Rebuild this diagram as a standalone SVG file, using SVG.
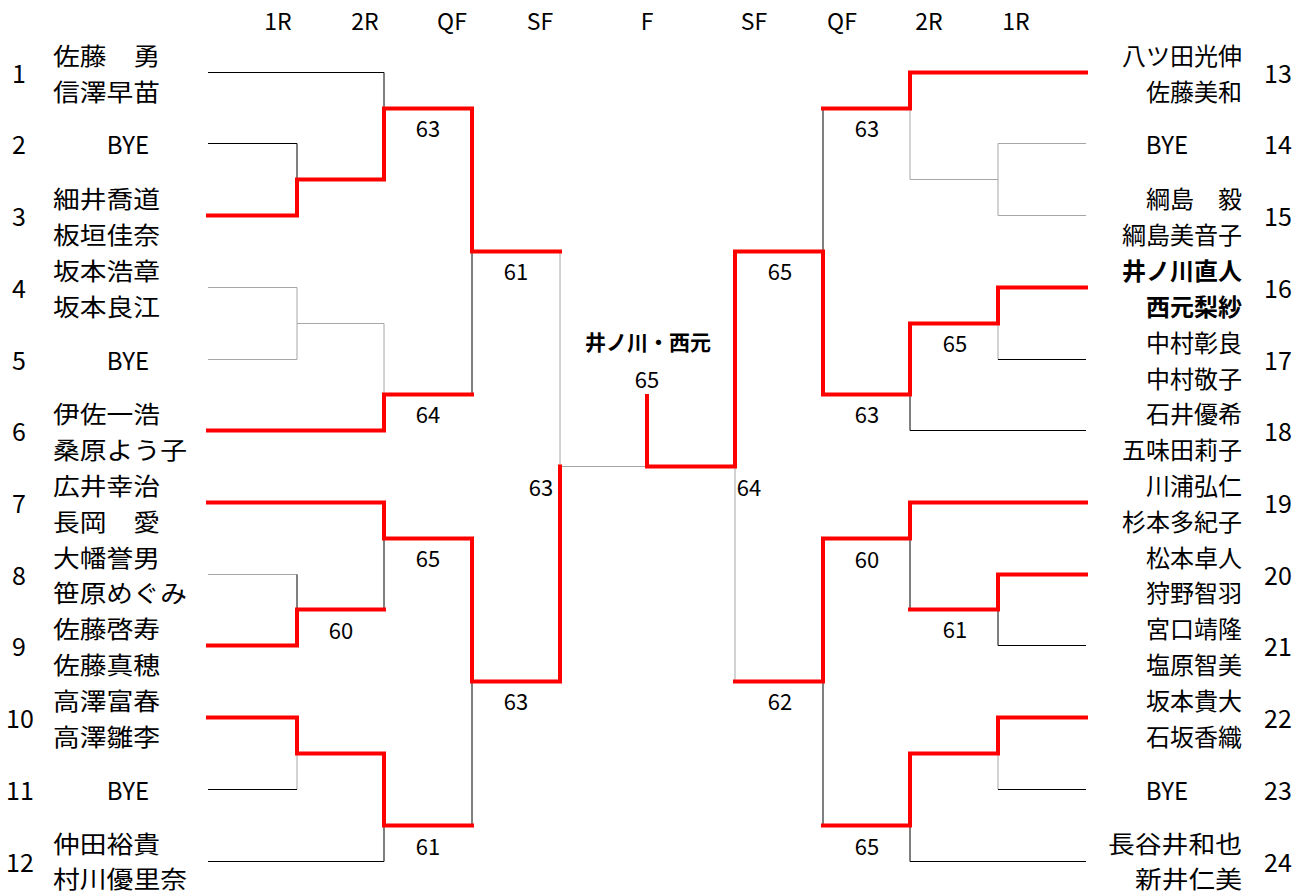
<svg xmlns="http://www.w3.org/2000/svg" width="1306" height="894" viewBox="0 0 1306 894">
<style>
text{font-family:"Noto Sans CJK JP","Liberation Sans",sans-serif;fill:#000;dominant-baseline:central}
.h{font-size:23px;text-anchor:middle}
.n{font-size:25px;text-anchor:middle}
.nm{font-size:24px}
.nr{font-size:24px}
.l{text-anchor:start}
.r{text-anchor:end}
.c{text-anchor:middle}
.b{font-weight:bold}
.s{font-size:22px;text-anchor:middle}
.t{font-size:21px;text-anchor:middle;font-weight:bold}
.k{fill:none;stroke:#000;stroke-width:1}
.g{fill:none;stroke:#a6a6a6;stroke-width:1}
.w{fill:none;stroke:#ff0000;stroke-width:4;stroke-linejoin:miter;stroke-linecap:square}
</style>
<rect width="1306" height="894" fill="#fff"/>
<g id="headers">
<text class="h" x="278" y="20">1R</text><text class="h" x="365" y="20">2R</text><text class="h" x="452" y="20">QF</text><text class="h" x="540" y="20">SF</text><text class="h" x="647" y="20">F</text><text class="h" x="754" y="20">SF</text><text class="h" x="842" y="20">QF</text><text class="h" x="929" y="20">2R</text><text class="h" x="1016" y="20">1R</text>
</g>
<g id="connectors">
<path class="g" d="M208,287.5H297V359.5H208M297,323.5H384V394.5"/>
<path class="g" d="M560,251.5V466.5H647"/>
<path class="g" d="M297,753.5V789.5M208,574.5H297"/>
<path class="k" d="M208,72.5H384V108.5M208,143.5H297V179.5M472,251.5V394.5M297,574.5V609.5M384,538.5V609.5M208,789.5H297M208,861.5H384V825.5M472,681.5V825.5"/>
<path class="g" d="M1086,143.5H998V215.5H1086M998,179.5H910V108.5"/>
<path class="g" d="M735,466.5V681.5M998,323.5V359.5M998,753.5V789.5"/>
<path class="k" d="M823,108.5V251.5M1086,359.5H998M1086,430.5H910V394.5M910,538.5V609.5M1086,645.5H998V609.5M823,681.5V825.5M1086,789.5H998M1086,861.5H910V825.5"/>
<path class="w" d="M208,215.5H297V179.5H384V108.5H472V251.5H560"/>
<path class="w" d="M208,430.5H384V394.5H472"/>
<path class="w" d="M208,502.5H384V538.5H472V681.5H560V466.5"/>
<path class="w" d="M208,645.5H297V609.5H384"/>
<path class="w" d="M208,717.5H297V753.5H384V825.5H472"/>
<path class="w" d="M1086,72.5H910V108.5H823"/>
<path class="w" d="M1086,287.5H998V323.5H910V394.5H823V251.5H735V466.5H647V396"/>
<path class="w" d="M1086,502.5H910V538.5H823V681.5H735"/>
<path class="w" d="M1086,574.5H998V609.5H910"/>
<path class="w" d="M1086,717.5H998V753.5H910V825.5H823"/>
</g>
<g id="scores">
<text class="s" x="428" y="127">63</text><text class="s" x="516" y="270">61</text><text class="s" x="428" y="413">64</text><text class="s" x="541" y="486">63</text><text class="s" x="428" y="557">65</text><text class="s" x="341" y="629">60</text><text class="s" x="516" y="700">63</text><text class="s" x="428" y="845">61</text>
<text class="s" x="867" y="127">63</text><text class="s" x="780" y="270">65</text><text class="s" x="955" y="342">65</text><text class="s" x="867" y="413">63</text><text class="s" x="749" y="486">64</text><text class="s" x="867" y="558">60</text><text class="s" x="955" y="628">61</text><text class="s" x="780" y="700">62</text><text class="s" x="867" y="845">65</text>
</g>
<g id="champion">
<text class="t" x="648" y="341">井ノ川・西元</text>
<text class="s" x="647" y="378">65</text>
</g>
<g id="p1"><text class="n" x="19" y="72">1</text><text class="nm l" x="53" y="54" textLength="107" lengthAdjust="spacingAndGlyphs">佐藤　勇</text><text class="nm l" x="53" y="90" textLength="107" lengthAdjust="spacingAndGlyphs">信澤早苗</text></g>
<g id="p2"><text class="n" x="19" y="143">2</text><text class="nr c" x="128" y="143">BYE</text></g>
<g id="p3"><text class="n" x="19" y="215">3</text><text class="nm l" x="53" y="197" textLength="107" lengthAdjust="spacingAndGlyphs">細井喬道</text><text class="nm l" x="53" y="233" textLength="107" lengthAdjust="spacingAndGlyphs">板垣佳奈</text></g>
<g id="p4"><text class="n" x="19" y="287">4</text><text class="nm l" x="53" y="269" textLength="107" lengthAdjust="spacingAndGlyphs">坂本浩章</text><text class="nm l" x="53" y="305" textLength="107" lengthAdjust="spacingAndGlyphs">坂本良江</text></g>
<g id="p5"><text class="n" x="19" y="359">5</text><text class="nr c" x="128" y="359">BYE</text></g>
<g id="p6"><text class="n" x="19" y="430">6</text><text class="nm l" x="53" y="412" textLength="107" lengthAdjust="spacingAndGlyphs">伊佐一浩</text><text class="nm l" x="53" y="448" textLength="134" lengthAdjust="spacingAndGlyphs">桑原よう子</text></g>
<g id="p7"><text class="n" x="19" y="502">7</text><text class="nm l" x="53" y="484" textLength="107" lengthAdjust="spacingAndGlyphs">広井幸治</text><text class="nm l" x="53" y="520" textLength="107" lengthAdjust="spacingAndGlyphs">長岡　愛</text></g>
<g id="p8"><text class="n" x="19" y="574">8</text><text class="nm l" x="53" y="556" textLength="107" lengthAdjust="spacingAndGlyphs">大幡誉男</text><text class="nm l" x="53" y="591" textLength="134" lengthAdjust="spacingAndGlyphs">笹原めぐみ</text></g>
<g id="p9"><text class="n" x="19" y="645">9</text><text class="nm l" x="53" y="627" textLength="107" lengthAdjust="spacingAndGlyphs">佐藤啓寿</text><text class="nm l" x="53" y="663" textLength="107" lengthAdjust="spacingAndGlyphs">佐藤真穂</text></g>
<g id="p10"><text class="n" x="20" y="717">10</text><text class="nm l" x="53" y="699" textLength="107" lengthAdjust="spacingAndGlyphs">高澤富春</text><text class="nm l" x="53" y="735" textLength="107" lengthAdjust="spacingAndGlyphs">高澤雛李</text></g>
<g id="p11"><text class="n" x="20" y="789">11</text><text class="nr c" x="128" y="789">BYE</text></g>
<g id="p12"><text class="n" x="20" y="861">12</text><text class="nm l" x="53" y="842" textLength="107" lengthAdjust="spacingAndGlyphs">仲田裕貴</text><text class="nm l" x="53" y="877" textLength="134" lengthAdjust="spacingAndGlyphs">村川優里奈</text></g>
<g id="p13"><text class="n" x="1278" y="72">13</text><text class="nr r" x="1242" y="54">八ツ田光伸</text><text class="nr r" x="1242" y="90">佐藤美和</text></g>
<g id="p14"><text class="n" x="1278" y="143">14</text><text class="nr c" x="1167" y="143">BYE</text></g>
<g id="p15"><text class="n" x="1278" y="215">15</text><text class="nr r" x="1242" y="197">綱島　毅</text><text class="nr r" x="1242" y="233">綱島美音子</text></g>
<g id="p16"><text class="n" x="1278" y="287">16</text><text class="nr r b" x="1242" y="269">井ノ川直人</text><text class="nr r b" x="1242" y="305">西元梨紗</text></g>
<g id="p17"><text class="n" x="1278" y="359">17</text><text class="nr r" x="1242" y="341">中村彰良</text><text class="nr r" x="1242" y="377">中村敬子</text></g>
<g id="p18"><text class="n" x="1278" y="430">18</text><text class="nr r" x="1242" y="412">石井優希</text><text class="nr r" x="1242" y="448">五味田莉子</text></g>
<g id="p19"><text class="n" x="1278" y="502">19</text><text class="nr r" x="1242" y="484">川浦弘仁</text><text class="nr r" x="1242" y="520">杉本多紀子</text></g>
<g id="p20"><text class="n" x="1278" y="574">20</text><text class="nr r" x="1242" y="556">松本卓人</text><text class="nr r" x="1242" y="591">狩野智羽</text></g>
<g id="p21"><text class="n" x="1278" y="645">21</text><text class="nr r" x="1242" y="627">宮口靖隆</text><text class="nr r" x="1242" y="663">塩原智美</text></g>
<g id="p22"><text class="n" x="1278" y="717">22</text><text class="nr r" x="1242" y="699">坂本貴大</text><text class="nr r" x="1242" y="735">石坂香織</text></g>
<g id="p23"><text class="n" x="1278" y="789">23</text><text class="nr c" x="1167" y="789">BYE</text></g>
<g id="p24"><text class="n" x="1278" y="861">24</text><text class="nr r" x="1242" y="842" textLength="134" lengthAdjust="spacingAndGlyphs">長谷井和也</text><text class="nr r" x="1242" y="877" textLength="107" lengthAdjust="spacingAndGlyphs">新井仁美</text></g>
</svg>
